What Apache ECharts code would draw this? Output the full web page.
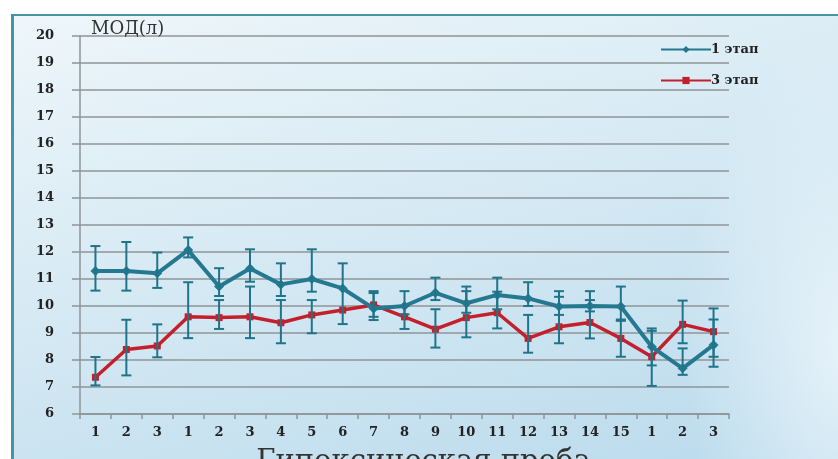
<!DOCTYPE html>
<html>
<head>
<meta charset="utf-8">
<script src="https://cdn.jsdelivr.net/npm/echarts@6/dist/echarts.min.js"></script>
<style>
  html, body { margin: 0; padding: 0; background: #ffffff; overflow: hidden; }
  #wrap { position: relative; width: 838px; height: 459px; overflow: hidden; }
  #panel {
    position: absolute; left: 11px; top: 14px; width: 900px; height: 520px;
    border-top: 2px solid #4793a8; border-left: 3px solid #4793a8;
    background:
      radial-gradient(ellipse 160px 320px at 830px 330px, rgba(238,247,252,0.8), rgba(238,247,252,0) 100%),
      linear-gradient(165deg, #eef6fa 0%, #d3e8f3 45%, #b2d6ea 100%);
  }
  #chart { position: absolute; left: 0; top: 0; width: 838px; height: 459px; }
</style>
</head>
<body>
<div id="wrap">
  <div id="panel"></div>
  <div id="chart"></div>
</div>
<script>
// Sample labels along the horizontal axis (three test blocks)
const categories = ['1','2','3','1','2','3','4','5','6','7','8','9','10','11','12','13','14','15','1','2','3'];

// МОД (л), stage 1
const stage1 = [11.30, 11.30, 11.21, 12.07, 10.72, 11.39, 10.80, 11.00, 10.65, 9.91, 10.00,
                10.49, 10.10, 10.41, 10.28, 9.98, 10.00, 9.98, 8.49, 7.69, 8.56];
const stage1Low  = [10.57, 10.57, 10.67, 11.80, 10.37, 10.90, 10.37, 10.53, 9.33, 9.48, 9.69,
                    10.22, 9.75, 9.88, 10.00, 9.67, 9.80, 9.50, 7.80, 7.45, 7.75];
const stage1High = [12.22, 12.37, 11.98, 12.54, 11.40, 12.10, 11.58, 12.10, 11.58, 10.55, 10.55,
                    11.05, 10.72, 11.05, 10.88, 10.55, 10.55, 10.72, 9.17, 8.43, 9.50];

// МОД (л), stage 3
const stage3 = [7.36, 8.39, 8.52, 9.60, 9.57, 9.60, 9.38, 9.67, 9.85, 10.04, 9.60,
                9.14, 9.57, 9.75, 8.80, 9.23, 9.39, 8.80, 8.12, 9.32, 9.05];
const stage3Low  = [7.06, 7.43, 8.10, 8.81, 9.15, 8.81, 8.62, 8.99, null, 9.60, 9.15,
                    8.46, 8.84, 9.17, 8.27, 8.62, 8.80, 8.12, 7.04, 8.62, 8.12];
const stage3High = [8.11, 9.49, 9.32, 10.88, 10.22, 10.72, 10.22, 10.22, null, 10.48, 10.00,
                    9.88, 10.55, 10.53, 9.67, 10.34, 10.22, 9.45, 9.08, 10.20, 9.91];

const yTicks = { min: 6, max: 20, step: 1 };

const TEAL = '#247990';
const RED = '#c3202b';
const ERR = '#1f7489';
const GRID = '#8f9497';
const SERIF = '"DejaVu Serif", "Liberation Serif", serif';

function errData(low, high) {
  const out = [];
  for (let i = 0; i < low.length; i++) {
    if (low[i] != null && high[i] != null) out.push([i, low[i], high[i]]);
  }
  return out;
}

function renderErr(params, api) {
  const x = api.value(0);
  const top = api.coord([x, api.value(2)]);
  const bot = api.coord([x, api.value(1)]);
  const hw = 5;
  const st = { stroke: ERR, lineWidth: 2, fill: null };
  return {
    type: 'group',
    children: [
      { type: 'line', shape: { x1: top[0], y1: top[1], x2: bot[0], y2: bot[1] }, style: st },
      { type: 'line', shape: { x1: top[0] - hw, y1: top[1], x2: top[0] + hw, y2: top[1] }, style: st },
      { type: 'line', shape: { x1: bot[0] - hw, y1: bot[1], x2: bot[0] + hw, y2: bot[1] }, style: st }
    ]
  };
}

const chart = echarts.init(document.getElementById('chart'), null, { renderer: 'canvas' });

chart.setOption({
  animation: false,
  backgroundColor: 'transparent',
  title: {
    text: 'МОД(л)',
    left: 86,
    top: 15,
    textStyle: { fontFamily: SERIF, fontSize: 18, fontWeight: 'normal', color: '#333333' }
  },
  legend: {
    orient: 'vertical',
    left: 655,
    top: 38,
    itemWidth: 50,
    itemHeight: 9,
    itemGap: 18,
    textStyle: { fontFamily: SERIF, fontSize: 13, fontWeight: 'bold', color: '#222222', padding: [0, 0, 0, -5] },
    data: ['1 этап', '3 этап']
  },
  grid: { left: 80, right: 109, top: 36, bottom: 45, containLabel: false, outerBoundsMode: 'none' },
  xAxis: {
    type: 'category',
    data: categories,
    boundaryGap: true,
    axisLine: { show: true, lineStyle: { color: GRID, width: 1.5 } },
    axisTick: { show: true, length: 5, alignWithLabel: false, lineStyle: { color: GRID, width: 1.5 } },
    axisLabel: { interval: 0, margin: 12, fontFamily: SERIF, fontSize: 13, fontWeight: 'bold', color: '#222222' },
    splitLine: { show: false },
    name: 'Гипоксическая проба',
    nameLocation: 'middle',
    nameGap: 34,
    nameTextStyle: { fontFamily: SERIF, fontSize: 29, color: '#333333', padding: [0, 0, 0, 38] }
  },
  yAxis: {
    type: 'value',
    min: yTicks.min,
    max: yTicks.max,
    interval: yTicks.step,
    axisLine: { show: true, lineStyle: { color: GRID, width: 1.5 } },
    axisTick: { show: true, length: 8, lineStyle: { color: GRID, width: 1.5 } },
    axisLabel: { margin: 26, fontFamily: SERIF, fontSize: 13, fontWeight: 'bold', color: '#222222' },
    splitLine: { show: true, lineStyle: { color: GRID, width: 1.5 } }
  },
  series: [
    {
      name: '3 этап',
      type: 'line',
      data: stage3,
      color: RED,
      lineStyle: { color: RED, width: 3.5 },
      symbol: 'rect',
      symbolSize: 7,
      itemStyle: { color: RED },
      z: 3
    },
    {
      name: '1 этап',
      type: 'line',
      data: stage1,
      color: TEAL,
      lineStyle: { color: TEAL, width: 4 },
      symbol: 'diamond',
      symbolSize: 10,
      itemStyle: { color: TEAL },
      z: 4
    },
    {
      name: 'err3',
      type: 'custom',
      data: errData(stage3Low, stage3High),
      renderItem: renderErr,
      encode: { x: 0, y: [1, 2] },
      z: 5
    },
    {
      name: 'err1',
      type: 'custom',
      data: errData(stage1Low, stage1High),
      renderItem: renderErr,
      encode: { x: 0, y: [1, 2] },
      z: 5
    }
  ]
});
</script>
</body>
</html>
